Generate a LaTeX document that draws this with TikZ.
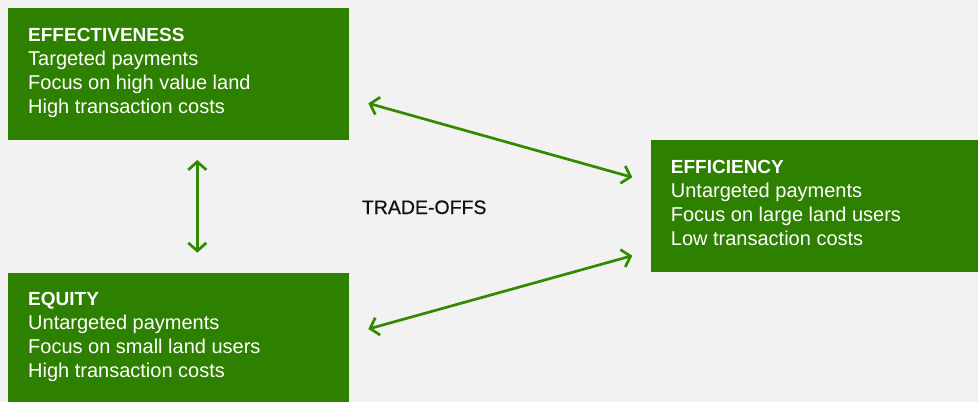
\documentclass[tikz,border=0pt]{standalone}
\usepackage{fontspec}
\setmainfont{Liberation Sans}
\newfontfamily\medfont[FakeBold=0.6]{Liberation Sans}
\usetikzlibrary{arrows.meta}
\definecolor{bg}{HTML}{F2F2F2}
\definecolor{grn}{HTML}{2E8000}
\definecolor{arr}{HTML}{328A00}
\definecolor{ink}{HTML}{111111}
\begin{document}
\begin{tikzpicture}[x=1pt,y=-1pt,
 box/.style={fill=grn,draw=none,anchor=north west,inner sep=0pt,outer sep=0pt},
 boxtext/.style={anchor=north west,inner sep=0pt,align=left,text=white,font=\fontsize{20}{24}\selectfont},
 conn/.style={draw=arr,line width=2.7pt,{Straight Barb[length=8pt,width=18pt]}-{Straight Barb[length=8pt,width=18pt]}}]
\fill[bg] (0,0) rectangle (978,402);
\useasboundingbox (0,0) rectangle (978,402);
\node[box,minimum width=341pt,minimum height=132pt] (eff) at (8,8) {};
\node[box,minimum width=341pt,minimum height=129pt] (equ) at (8,273) {};
\node[box,minimum width=327pt,minimum height=132pt] (effi) at (651,140) {};
\node[boxtext] (efft) at (28,27.7) {{\fontsize{19}{24}\selectfont\bfseries EFFECTIVENESS}\\Targeted payments\\Focus on high value land\\High transaction costs};
\node[boxtext] (equt) at (28,292) {{\fontsize{19}{24}\selectfont\bfseries EQUITY}\\Untargeted payments\\Focus on small land users\\High transaction costs};
\node[boxtext] (effit) at (670.7,160) {{\fontsize{19}{24}\selectfont\bfseries EFFICIENCY}\\Untargeted payments\\Focus on large land users\\Low transaction costs};
\node[anchor=base west,inner sep=0pt,text=ink,font=\medfont\fontsize{19.5}{24}\selectfont] (tr) at (361.7,214) {TRADE-OFFS};
\coordinate (v1) at (197.3,160);
\coordinate (v2) at (197.3,252.7);
\coordinate (a1) at (368.3,103.3);
\coordinate (b1) at (632.3,177.3);
\coordinate (a2) at (632.3,255.7);
\coordinate (b2) at (368.3,329);
\draw[conn] (v1) -- (v2);
\draw[conn] (a1) -- (b1);
\draw[conn] (a2) -- (b2);
\end{tikzpicture}
\end{document}
